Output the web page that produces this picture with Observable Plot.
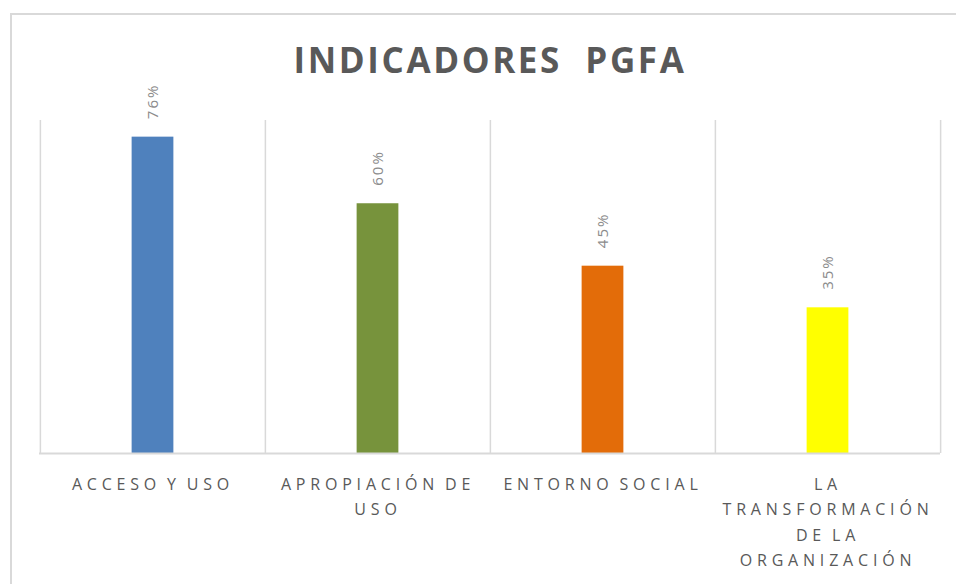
<!DOCTYPE html>
<html>
<head>
<meta charset="utf-8">
<script src="https://cdn.jsdelivr.net/npm/d3@7"></script>
<script src="https://cdn.jsdelivr.net/npm/@observablehq/plot@0.6"></script>
<style>
  html, body { margin: 0; padding: 0; background: #fff; }
  #wrap { position: relative; width: 956px; height: 584px; overflow: hidden; background: #fff; }
  #frame { position: absolute; left: 10px; top: 13px; width: 960px; height: 600px;
           border-left: 2px solid #d9d9d9; border-top: 2px solid #d9d9d9; }
  #title { position: absolute; left: 0; top: 36px; width: 980px; text-align: center;
           font-family: "Open Sans", sans-serif; font-weight: 700; font-size: 35px;
           letter-spacing: 2.6px; color: #595959; white-space: pre; }
  #chart { position: absolute; left: 0; top: 100px; }
  g[aria-description="xlab"] text { letter-spacing: 4.8px; word-spacing: -3px; }
  g[aria-description="vlab"] text { letter-spacing: 2px; }
</style>
</head>
<body>
<div id="wrap">
  <div id="frame"></div>
  <div id="title">INDICADORES  PGFA</div>
  <div id="chart"></div>
</div>
<script>
const categories = ["ACCESO Y USO", "APROPIACIÓN DE USO", "ENTORNO SOCIAL", "LA TRANSFORMACIÓN DE LA ORGANIZACIÓN"];
const tickLabels = ["ACCESO Y USO", "APROPIACIÓN DE\nUSO", "ENTORNO SOCIAL", "LA\nTRANSFORMACIÓN\nDE LA\nORGANIZACIÓN"];
const values = [0.76, 0.60, 0.45, 0.35];
const colors = ["#4f81bd", "#77933c", "#e36c09", "#ffff00"];

const data = categories.map((c, i) => ({cat: c, label: tickLabels[i], value: values[i], color: colors[i]}));

const W = 956, H = 484;
const mL = 39, mR = 16;
const bw = (W - mL - mR) / categories.length;

const plot = Plot.plot({
  width: W,
  height: H,
  marginLeft: mL,
  marginRight: mR,
  marginTop: 20,
  marginBottom: 131,
  style: {background: "transparent", overflow: "visible"},
  x: {domain: categories, paddingInner: 0, paddingOuter: 0, axis: null},
  y: {domain: [0, 0.8], axis: null},
  marks: [
    Plot.ruleX(categories, {x: d => d, dx: -bw / 2, y1: 0, y2: 0.8, stroke: "#d9d9d9", strokeWidth: 1.5}),
    Plot.ruleX([categories[categories.length - 1]], {x: d => d, dx: bw / 2, y1: 0, y2: 0.8, stroke: "#d9d9d9", strokeWidth: 1.5}),
    Plot.barY(data, {x: "cat", y: "value", fill: "color", insetLeft: (bw - 42) / 2, insetRight: (bw - 42) / 2}),
    Plot.ruleY([0], {stroke: "#d9d9d9", strokeWidth: 2}),
    Plot.text(data, {x: "cat", y: "value", text: d => Math.round(d.value * 100) + "%", rotate: -90,
      textAnchor: "start", dy: -18, fill: "#8c8c8c", fontSize: 15, fontFamily: "Open Sans, sans-serif", ariaDescription: "vlab"}),
    Plot.text(data, {x: "cat", y: () => 0, text: "label", lineAnchor: "top", dy: 18, lineHeight: 1.6,
      fill: "#595959", fontSize: 16, fontFamily: "Open Sans, sans-serif", ariaDescription: "xlab"})
  ]
});
document.getElementById("chart").appendChild(plot);
</script>
</body>
</html>
